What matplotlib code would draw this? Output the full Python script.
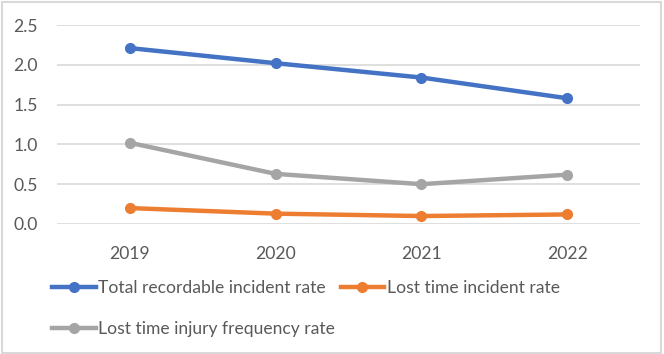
import matplotlib.pyplot as plt
from matplotlib.patches import Rectangle

years = ['2019', '2020', '2021', '2022']
total_recordable = [2.21, 2.02, 1.84, 1.58]
lost_time_incident = [0.20, 0.13, 0.10, 0.12]
lost_time_injury_freq = [1.02, 0.63, 0.50, 0.62]

plt.rcParams['font.family'] = ['Lato', 'DejaVu Sans']
text_col = '#595959'
grid_col = '#D9D9D9'
fs = 12.6

fig = plt.figure(figsize=(6.64, 3.54), dpi=100)
ax = fig.add_axes([57/664, 130/354, 583/664, 199/354])

x = range(len(years))
l1, = ax.plot(x, total_recordable, color='#4472C4', lw=3.2, marker='o', ms=7,
              label='Total recordable incident rate')
l2, = ax.plot(x, lost_time_incident, color='#ED7D31', lw=3.2, marker='o', ms=7,
              label='Lost time incident rate')
l3, = ax.plot(x, lost_time_injury_freq, color='#A5A5A5', lw=3.2, marker='o', ms=7,
              label='Lost time injury frequency rate')

ax.set_xlim(-0.5, 3.5)
ax.set_ylim(0, 2.5)
ax.set_yticks([0, 0.5, 1.0, 1.5, 2.0, 2.5])
ax.set_yticklabels(['0.0', '0.5', '1.0', '1.5', '2.0', '2.5'])
ax.set_xticks(list(x))
ax.set_xticklabels(years)
ax.grid(axis='y', color=grid_col, lw=1.2)
ax.set_axisbelow(True)
for s in ax.spines.values():
    s.set_visible(False)
ax.tick_params(length=0, labelsize=fs, colors=text_col)
ax.tick_params(axis='y', pad=14)
ax.tick_params(axis='x', pad=16)

# legend: blue + orange on first row, gray on second
leg = fig.legend([l1, l3, l2], [l1.get_label(), l3.get_label(), l2.get_label()],
                 ncol=2, loc='upper left', bbox_to_anchor=(52/664, 1 - 280/354),
                 frameon=False, fontsize=fs, handlelength=2.5, handletextpad=0.15,
                 labelspacing=1.45, columnspacing=0.3, borderpad=0, borderaxespad=0)
for t in leg.get_texts():
    t.set_color(text_col)

# chart border
fig.patches.append(Rectangle((2/664, 1/354), 659/664, 351/354, transform=fig.transFigure,
                             fill=False, edgecolor=grid_col, lw=1.5))

fig.savefig('out.png', dpi=100)
